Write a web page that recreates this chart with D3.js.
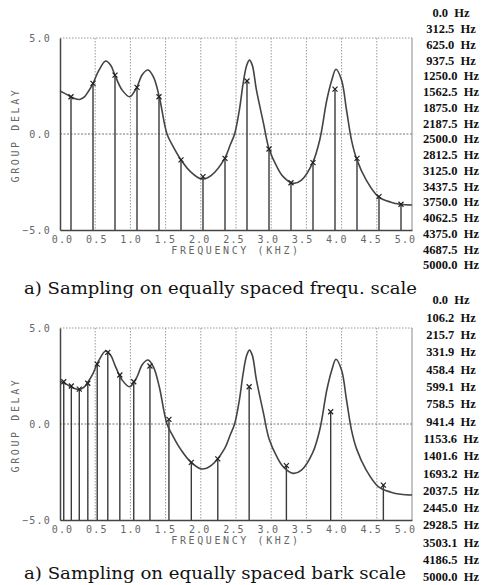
<!DOCTYPE html>
<html>
<head>
<meta charset="utf-8">
<script src="https://cdn.jsdelivr.net/npm/d3@7/dist/d3.min.js"></script>
<style>
  html, body { margin: 0; padding: 0; background: #fff; }
  svg { display: block; }
</style>
</head>
<body>
<svg id="chart" width="484" height="585"></svg>
<script>
// Group delay of the model spectrum (kHz, group delay units)
const curveFreq = [0.00, 0.10, 0.20, 0.28, 0.35, 0.40, 0.47, 0.55, 0.65, 0.72, 0.78, 0.88, 0.99,
  1.09, 1.17, 1.25, 1.33, 1.41, 1.52, 1.60, 1.72, 1.85, 2.01, 2.15, 2.34, 2.42, 2.48, 2.55,
  2.60, 2.65, 2.69, 2.73, 2.79, 2.89, 2.97, 3.08, 3.17, 3.31, 3.43, 3.59, 3.69, 3.79, 3.86,
  3.92, 4.00, 4.07, 4.14, 4.21, 4.35, 4.52, 4.70, 4.84, 5.00];
const curveDelay = [2.24, 2.05, 1.86, 1.80, 1.95, 2.20, 2.64, 3.30, 3.80, 3.58, 3.07, 2.30, 1.94,
  2.43, 3.10, 3.33, 2.95, 1.94, 0.00, -0.60, -1.35, -1.95, -2.34, -2.15, -1.27, -0.55, 0.00, 1.30,
  2.60, 3.55, 3.85, 3.60, 2.30, 0.57, -0.78, -1.70, -2.22, -2.57, -2.40, -1.49, -0.30, 1.77, 2.80,
  3.37, 2.80, 1.25, -0.31, -1.27, -2.40, -3.26, -3.55, -3.66, -3.70];

// Band edges (Hz) for the two sampling schemes
const freqEdges = [0.0, 312.5, 625.0, 937.5, 1250.0, 1562.5, 1875.0, 2187.5, 2500.0, 2812.5,
  3125.0, 3437.5, 3750.0, 4062.5, 4375.0, 4687.5, 5000.0];
const barkEdges = [0.0, 106.2, 215.7, 331.9, 458.4, 599.1, 758.5, 941.4, 1153.6, 1401.6,
  1693.2, 2037.5, 2445.0, 2928.5, 3503.1, 4186.5, 5000.0];

// Sampled group delay, one value per band
const freqSamples = [1.94, 2.64, 3.07, 2.43, 1.94, -1.35, -2.22, -1.27, 2.76, -0.78, -2.54,
  -1.49, 2.34, -1.27, -3.26, -3.66];
const barkSamples = [2.20, 1.98, 1.82, 2.12, 3.12, 3.73, 2.55, 2.20, 3.02, 0.24, -2.00, -1.82,
  1.94, -2.17, 0.64, -3.18];

const xTicks = [0, 0.5, 1.0, 1.5, 2.0, 2.5, 3.0, 3.5, 4.0, 4.5, 5.0];
const yTicks = [-5, 0, 5];
const captions = ["a) Sampling on equally spaced frequ. scale", "a) Sampling on equally spaced bark scale"];

const svg = d3.select("#chart");
const plotLeft = 60, plotRight = 412, plotH = 192;
const panels = [
  { top: 38, edges: freqEdges, samples: freqSamples, caption: captions[0], capY: 294, capW: 393, list: [13, 265] },
  { top: 328, edges: barkEdges, samples: barkSamples, caption: captions[1], capY: 579, capW: 382, list: [300, 577] }
];

const x = d3.scaleLinear().domain([0, 5]).range([plotLeft, plotRight]);
const plotFont = "'DejaVu Sans Mono', monospace";
const ink = "#3a3a3a";

panels.forEach(p => {
  const y = d3.scaleLinear().domain([-5, 5]).range([p.top + plotH, p.top]);
  const g = svg.append("g");

  // vertical grid
  g.append("g").selectAll("line").data(xTicks.slice(1, -1)).join("line")
    .attr("x1", d => x(d)).attr("x2", d => x(d))
    .attr("y1", y(5)).attr("y2", y(-5))
    .attr("stroke", "#9a9a9a").attr("stroke-width", 1).attr("stroke-dasharray", "1.5,1.5");
  // horizontal grid at zero and top frame
  g.append("line").attr("x1", x(0)).attr("x2", x(5)).attr("y1", y(0)).attr("y2", y(0))
    .attr("stroke", "#777").attr("stroke-width", 1).attr("stroke-dasharray", "2,1.5");
  g.append("line").attr("x1", x(0)).attr("x2", x(5)).attr("y1", y(5)).attr("y2", y(5))
    .attr("stroke", "#999").attr("stroke-width", 1).attr("stroke-dasharray", "1.5,1.5");
  g.append("line").attr("x1", x(5)).attr("x2", x(5)).attr("y1", y(5)).attr("y2", y(-5))
    .attr("stroke", "#8a8a8a").attr("stroke-width", 1);

  // sample stems at band centres
  const centres = p.samples.map((v, i) => ({ f: (p.edges[i] + p.edges[i + 1]) / 2000, v }));
  g.append("g").selectAll("line").data(centres).join("line")
    .attr("x1", d => x(d.f)).attr("x2", d => x(d.f))
    .attr("y1", d => y(d.v)).attr("y2", y(-5))
    .attr("stroke", ink).attr("stroke-width", 1.4);

  // continuous group delay curve
  const pts = curveFreq.map((f, i) => [f, curveDelay[i]]);
  g.append("path").datum(pts)
    .attr("d", d3.line().x(d => x(d[0])).y(d => y(d[1])).curve(d3.curveCatmullRom.alpha(0.5)))
    .attr("fill", "none").attr("stroke", "#444").attr("stroke-width", 1.6);

  // sample markers
  g.append("g").selectAll("path").data(centres).join("path")
    .attr("d", d => { const cx = x(d.f), cy = y(d.v), s = 2.5;
      return `M${cx - s},${cy - s}L${cx + s},${cy + s}M${cx - s},${cy + s}L${cx + s},${cy - s}`; })
    .attr("stroke", "#222").attr("stroke-width", 1.2);

  // axes
  const xAxis = d3.axisBottom(x).tickValues(xTicks).tickSize(0).tickPadding(6).tickFormat(d3.format(".1f"));
  const ax = g.append("g").attr("transform", `translate(0,${y(-5)})`).call(xAxis);
  ax.select(".domain").attr("stroke", "#444").attr("stroke-width", 1.5);
  ax.selectAll("text").attr("font-family", plotFont).attr("font-size", 10)
    .attr("fill", "#666").attr("letter-spacing", 1.2)
    .attr("dx", d => 2 - 1.8 * d);

  const yAxis = d3.axisLeft(y).tickValues(yTicks).tickSize(0).tickPadding(9).tickFormat(d3.format(".1f"));
  const ay = g.append("g").attr("transform", `translate(${x(0)},0)`).call(yAxis);
  ay.select(".domain").attr("stroke", "#444").attr("stroke-width", 1.5);
  ay.selectAll("text").attr("font-family", plotFont).attr("font-size", 10)
    .attr("fill", "#666").attr("letter-spacing", 1.2);

  g.append("text").text("FREQUENCY (KHZ)")
    .attr("x", 236).attr("y", y(-5) + 24)
    .attr("text-anchor", "middle").attr("font-family", plotFont).attr("font-size", 10)
    .attr("letter-spacing", 2.6).attr("fill", "#666");

  g.append("text").text("GROUP DELAY")
    .attr("transform", `translate(19,${y(0) + 1}) rotate(-90)`)
    .attr("text-anchor", "middle").attr("font-family", plotFont).attr("font-size", 10)
    .attr("letter-spacing", 2.6).attr("fill", "#666");

  // caption
  g.append("text").text(p.caption)
    .attr("x", 24).attr("y", p.capY)
    .attr("font-family", "'DejaVu Serif', serif").attr("font-size", 16)
    .attr("textLength", p.capW).attr("lengthAdjust", "spacingAndGlyphs")
    .attr("fill", "#111");

  // band edge list
  const ly = d3.scalePoint().domain(d3.range(p.edges.length)).range(p.list);
  svg.append("g").selectAll("text").data(p.edges).join("text")
    .attr("x", 451).attr("y", (d, i) => ly(i))
    .attr("dy", "0.35em")
    .attr("text-anchor", "middle")
    .attr("font-family", "'Liberation Serif', serif").attr("font-weight", "bold")
    .attr("font-size", 12.5).attr("fill", "#111")
    .text(d => d.toFixed(1) + "  Hz")
    .attr("xml:space", "preserve");
});
</script>
</body>
</html>
